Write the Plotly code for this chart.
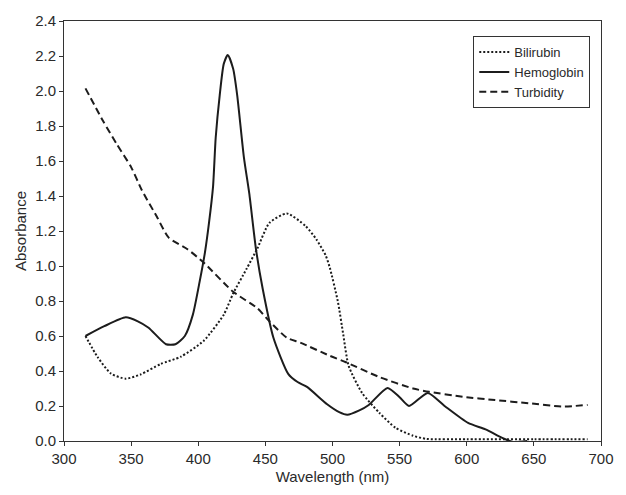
import plotly.graph_objects as go

# Bilirubin (dotted)
bili_x = [316, 325, 335, 346, 357, 372, 387, 404, 419, 426, 436, 444, 453, 466, 480, 488, 495, 498, 504, 508, 512, 522, 535, 547, 560, 570, 600, 650, 690]
bili_y = [0.60, 0.48, 0.385, 0.356, 0.38, 0.44, 0.482, 0.572, 0.722, 0.843, 0.984, 1.10, 1.246, 1.30, 1.228, 1.152, 1.059, 0.99, 0.797, 0.609, 0.43, 0.275, 0.16, 0.075, 0.03, 0.012, 0.01, 0.01, 0.01]

# Hemoglobin (solid)
hemo_x = [316, 330, 346, 355, 363, 376, 383, 390, 396, 401, 405, 408, 411, 413, 416, 419, 422, 426, 429, 434, 438, 443, 448, 456, 467, 474, 481, 496, 505, 511, 520, 527, 541, 550, 557, 571, 584, 601, 614, 626, 634, 645]
hemo_y = [0.60, 0.656, 0.707, 0.684, 0.647, 0.553, 0.553, 0.60, 0.722, 0.909, 1.078, 1.246, 1.452, 1.733, 1.977, 2.155, 2.206, 2.127, 1.977, 1.621, 1.415, 1.096, 0.87, 0.59, 0.384, 0.337, 0.309, 0.21, 0.165, 0.15, 0.175, 0.206, 0.303, 0.25, 0.20, 0.275, 0.197, 0.103, 0.066, 0.019, -0.005, 0.0]

# Turbidity (dashed)
turb_x = [316, 329, 339, 350, 358, 369, 378, 392, 404, 426, 444, 453, 466, 476, 498, 510, 535, 560, 572, 597, 621, 646, 671, 690]
turb_y = [2.015, 1.83, 1.70, 1.565, 1.433, 1.284, 1.162, 1.096, 1.02, 0.853, 0.759, 0.684, 0.59, 0.562, 0.487, 0.45, 0.365, 0.30, 0.281, 0.253, 0.234, 0.216, 0.197, 0.206]

x_ticks = [300, 350, 400, 450, 500, 550, 600, 650, 700]
y_ticks = [0.0, 0.2, 0.4, 0.6, 0.8, 1.0, 1.2, 1.4, 1.6, 1.8, 2.0, 2.2, 2.4]

col = "#1c1c1c"
txt = "#2a2a2a"
fig = go.Figure()
fig.add_trace(go.Scatter(x=bili_x, y=bili_y, mode="lines", name="Bilirubin",
                         line=dict(color=col, width=2, dash="2px,2px", shape="spline", smoothing=0.6)))
fig.add_trace(go.Scatter(x=hemo_x, y=hemo_y, mode="lines", name="Hemoglobin",
                         line=dict(color=col, width=2, shape="spline", smoothing=0.6)))
fig.add_trace(go.Scatter(x=turb_x, y=turb_y, mode="lines", name="Turbidity",
                         line=dict(color=col, width=2, dash="7px,4px", shape="spline", smoothing=0.6)))

axis_common = dict(showgrid=False, zeroline=False, showline=True, linecolor="#333333", linewidth=1,
                   mirror=True, ticks="outside", ticklen=4, tickcolor="#333333",
                   tickfont=dict(size=15, color=txt))
fig.update_xaxes(range=[300, 700], tickvals=x_ticks, ticktext=[str(v) for v in x_ticks],
                 title=dict(text="Wavelength (nm)", font=dict(size=15, color=txt), standoff=5),
                 **axis_common)
fig.update_yaxes(range=[0, 2.4], tickvals=y_ticks, ticktext=[f"{v:.1f}" for v in y_ticks],
                 title=dict(text="Absorbance", font=dict(size=15, color=txt), standoff=4),
                 **axis_common)
fig.update_layout(
    width=626, height=495,
    margin=dict(l=64, r=23, t=15, b=53),
    paper_bgcolor="white", plot_bgcolor="white",
    font=dict(family="Liberation Sans, Arial, sans-serif", color=txt),
    legend=dict(x=0.98, y=0.964, xanchor="right", yanchor="top",
                bordercolor="#333333", borderwidth=1, bgcolor="white",
                font=dict(size=13, color=txt), tracegroupgap=0),
    showlegend=True,
)
fig.write_html("out.html", config={"displayModeBar": False},
               post_script="document.body.style.margin='0';document.body.style.overflow='hidden';")
